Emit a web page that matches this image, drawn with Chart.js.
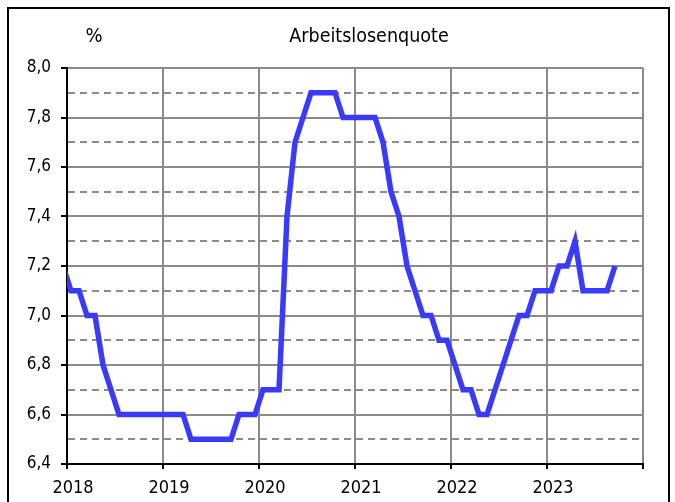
<!DOCTYPE html>
<html>
<head>
<meta charset="utf-8">
<script src="https://cdn.jsdelivr.net/npm/chart.js@4.4.1/dist/chart.umd.min.js"></script>
<style>
  html, body { margin: 0; padding: 0; background: #fff; }
  #wrap { position: relative; width: 675px; height: 502px; overflow: hidden; }
  #frame { position: absolute; left: 7px; top: 7px; width: 659px; height: 520px; border: 2px solid #000; box-sizing: content-box; }
  #box { position: absolute; left: 0; top: 0; width: 675px; height: 502px; }
</style>
</head>
<body>
<div id="wrap">
  <div id="frame"></div>
  <div id="box"><canvas id="lineChart"></canvas></div>
</div>
<script>
// Arbeitslosenquote, monthly values in %, first value = Dec 2017
const firstMonth = -1;           // months relative to Jan 2018
const quote = [
  7.2,                                                             // Dec 2017
  7.1, 7.1, 7.0, 7.0, 6.8, 6.7, 6.6, 6.6, 6.6, 6.6, 6.6, 6.6,      // 2018
  6.6, 6.6, 6.6, 6.5, 6.5, 6.5, 6.5, 6.5, 6.5, 6.6, 6.6, 6.6,      // 2019
  6.7, 6.7, 6.7, 7.4, 7.7, 7.8, 7.9, 7.9, 7.9, 7.9, 7.8, 7.8,      // 2020
  7.8, 7.8, 7.8, 7.7, 7.5, 7.4, 7.2, 7.1, 7.0, 7.0, 6.9, 6.9,      // 2021
  6.8, 6.7, 6.7, 6.6, 6.6, 6.7, 6.8, 6.9, 7.0, 7.0, 7.1, 7.1,      // 2022
  7.1, 7.2, 7.2, 7.3, 7.1, 7.1, 7.1, 7.1, 7.2                      // 2023
];
const years = ['2018', '2019', '2020', '2021', '2022', '2023'];
const yMin = 6.4;
const yMax = 8.0;

const font = "'Liberation Sans Narrow', 'DejaVu Sans Condensed', 'Liberation Sans', sans-serif";
const gridGray = '#8a8a8a';

// points sit in the middle of their month
const points = quote.map((v, i) => ({ x: firstMonth + i + 0.5, y: v }));

const isMajor = v => Math.round(v * 10) % 2 === 0;

// title and unit label
const textPlugin = {
  id: 'texts',
  afterDraw(chart) {
    const c = chart.ctx;
    c.save();
    c.fillStyle = '#000';
    c.textBaseline = 'middle';
    c.textAlign = 'center';
    c.font = '20px ' + font;
    c.fillText('%', 94, 37);
    c.font = '19.5px ' + font;
    c.fillText('Arbeitslosenquote', 369, 37);
    c.restore();
  }
};

const ctx = document.getElementById('lineChart').getContext('2d');
const lineChart = new Chart(ctx, {
  type: 'line',
  data: {
    datasets: [{
      label: 'Arbeitslosenquote',
      data: points,
      borderColor: '#3a3aff',
      borderWidth: 5.5,
      pointRadius: 0,
      tension: 0,
      clip: 0
    }]
  },
  options: {
    responsive: true,
    maintainAspectRatio: false,
    animation: false,
    layout: { padding: { top: 68, right: 32, left: 0, bottom: 0 } },
    scales: {
      x: {
        type: 'linear',
        min: 0,
        max: years.length * 12,
        afterFit: s => { s.height = 38; },
        afterBuildTicks: s => {
          s.ticks = [];
          for (let i = 0; i <= years.length; i++) s.ticks.push({ value: i * 12 });
        },
        grid: {
          color: c => (c.tick && c.tick.value === 0) ? 'transparent' : gridGray,
          lineWidth: 2,
          tickColor: '#000',
          tickLength: 5
        },
        border: { color: '#000', width: 2 },
        ticks: {
          color: '#000',
          font: { family: font, size: 18 },
          padding: 9,
          labelOffset: 6,
          maxRotation: 0,
          autoSkip: false,
          callback: v => years[v / 12] || ''
        }
      },
      y: {
        min: yMin,
        max: yMax,
        afterFit: s => { s.width = 67; },
        grid: {
          color: c => (c.tick && Math.abs(c.tick.value - yMin) < 1e-6) ? 'transparent' : gridGray,
          lineWidth: 2,
          tickColor: c => (c.tick && isMajor(c.tick.value)) ? '#000' : 'transparent',
          tickLength: 6
        },
        border: {
          color: '#000',
          width: 2,
          dash: c => (c.tick && !isMajor(c.tick.value)) ? [7, 5] : []
        },
        ticks: {
          stepSize: 0.1,
          autoSkip: false,
          color: '#000',
          font: { family: font, size: 17 },
          padding: 10,
          callback: v => isMajor(v) ? v.toFixed(1).replace('.', ',') : ''
        }
      }
    },
    plugins: {
      legend: { display: false },
      tooltip: { enabled: false }
    }
  },
  plugins: [textPlugin]
});
</script>
</body>
</html>
